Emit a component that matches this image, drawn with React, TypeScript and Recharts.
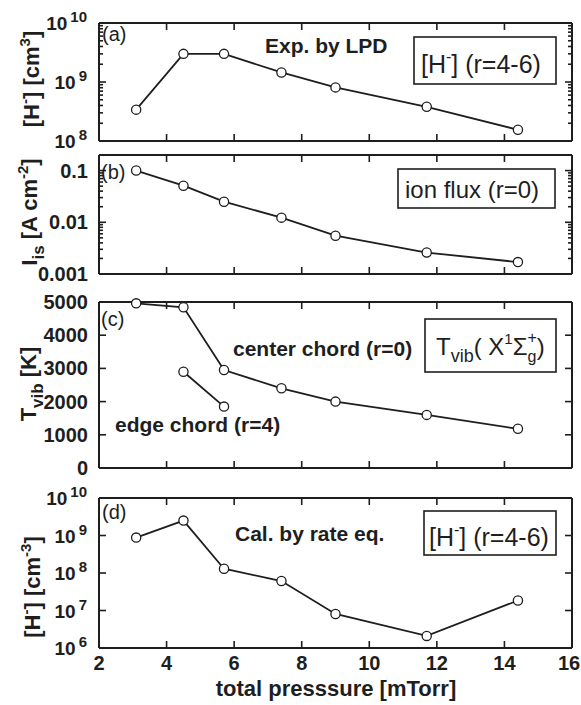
import React from 'react';
import { LineChart, Line, XAxis, YAxis } from 'recharts';

const W = 581;
const H = 705;
const FONT = '"Liberation Sans", Arial, Helvetica, sans-serif';
const INK = '#1e1e1e';

// total pressure [mTorr], shared by every panel
const pressure = [3.1, 4.5, 5.7, 7.4, 9.0, 11.7, 14.4];
const xTicks = [2, 4, 6, 8, 10, 12, 14, 16];

// (a) H- density measured by LPD, r = 4-6
const hMinusLpd = [3.4e8, 3.0e9, 3.0e9, 1.45e9, 8.1e8, 3.8e8, 1.55e8];
// (b) ion saturation current, r = 0
const ionFlux = [0.1, 0.051, 0.025, 0.0123, 0.0055, 0.0026, 0.0017];
// (c) vibrational temperature, center and edge chords
const tvibCenter = [4960, 4840, 2950, 2400, 2000, 1600, 1180];
const edgePressure = [4.5, 5.7];
const tvibEdge = [2900, 1850];
// (d) H- density from rate equation, r = 4-6
const hMinusCalc = [8.8e8, 2.5e9, 1.3e8, 6.1e7, 8.1e6, 2.1e6, 1.85e7];

// y tick values
const ticksA = [1e8, 1e9, 1e10];
const ticksB = [0.001, 0.01, 0.1];
const ticksC = [0, 1000, 2000, 3000, 4000, 5000];
const ticksD = [1e6, 1e7, 1e8, 1e9, 1e10];

// adds 2..9 minor ticks between log decades
const withMinors = (majors: number[]) => {
  const out: number[] = [];
  majors.forEach((m, i) => {
    out.push(m);
    if (i < majors.length - 1) for (let k = 2; k <= 9; k++) out.push(m * k);
  });
  return out;
};

const toRows = (xs: number[], ys: number[]) => xs.map((x, i) => ({ x, y: ys[i] }));

const isDecade = (v: number) => {
  const l = Math.log10(v);
  return Math.abs(l - Math.round(l)) < 1e-6;
};

type Kind = 'pow' | 'dec' | 'lin' | 'none';

function labelFor(kind: Kind, v: number, x: number, y: number) {
  const common = { fontFamily: FONT, fontWeight: 700, fill: INK } as const;
  if (kind === 'pow') {
    const n = Math.round(Math.log10(v));
    return (
      <text x={x - 12} y={y + 7} textAnchor="end" fontSize={19} {...common}>
        <tspan>10</tspan>
        <tspan dx={3} dy={-8} fontSize={15}>{n}</tspan>
      </text>
    );
  }
  if (kind === 'dec' || kind === 'lin') {
    return (
      <text x={x - 11} y={y + 7} textAnchor="end" fontSize={20} {...common}>
        {String(v)}
      </text>
    );
  }
  return null;
}

// inward tick mark (major length 7, log minors 4) plus the label on the left side
function YTick(props: any) {
  const { x, y, payload, side, kind, log } = props;
  const v = payload.value as number;
  const major = !log || isDecade(v);
  const dir = side === 'left' ? 1 : -1;
  return (
    <g>
      <line x1={x} y1={y} x2={x + dir * (major ? 7 : 4)} y2={y} stroke={INK} strokeWidth={1.6} />
      {side === 'left' && major ? labelFor(kind, v, x, y) : null}
    </g>
  );
}

function XTick(props: any) {
  const { x, y, side } = props;
  const dir = side === 'top' ? 1 : -1;
  return <line x1={x} y1={y} x2={x} y2={y + dir * 7} stroke={INK} strokeWidth={1.6} />;
}

function XLabel(props: any) {
  const { x, y, payload } = props;
  return (
    <text
      x={Math.min(x, W - 12)}
      y={y + 21}
      textAnchor="middle"
      fontSize={20}
      fontFamily={FONT}
      fontWeight={700}
      fill={INK}
    >
      {payload.value}
    </text>
  );
}

const dotStyle = { r: 4.6, fill: '#fff', stroke: INK, strokeWidth: 1.3 };
const axisLineStyle = { stroke: INK, strokeWidth: 2 };

const PAD_TOP = 25;
const PAD_BOTTOM = 50;

interface PanelProps {
  top: number;
  bottom: number;
  domain: [number, number];
  log: boolean;
  ticks: number[];
  kind: Kind;
  series: { x: number; y: number }[][];
  xLabels?: boolean;
}

function Panel({ top, bottom, domain, log, ticks, kind, series, xLabels }: PanelProps) {
  const h = bottom - top + PAD_TOP + PAD_BOTTOM;
  const extra = xLabels ? 1 : 0;
  return (
    <div style={{ position: 'absolute', left: 0, top: top - PAD_TOP }}>
      <LineChart
        width={W}
        height={h}
        data={series[0]}
        margin={{ top: PAD_TOP - 1, bottom: PAD_BOTTOM - 1 - extra, left: 0, right: 0 }}
      >
        <XAxis
          xAxisId="b"
          type="number"
          dataKey="x"
          domain={[2, 16]}
          ticks={xTicks}
          interval={0}
          height={1}
          tickSize={0}
          tickMargin={0}
          axisLine={axisLineStyle}
          tickLine={false}
          tick={(p: any) => <XTick {...p} side="bottom" />}
        />
        {xLabels ? (
          <XAxis
            xAxisId="lab"
            type="number"
            dataKey="x"
            domain={[2, 16]}
            ticks={xTicks}
            interval={0}
            height={1}
            tickSize={0}
            tickMargin={0}
            axisLine={false}
            tickLine={false}
            tick={(p: any) => <XLabel {...p} />}
          />
        ) : null}
        <XAxis
          xAxisId="t"
          orientation="top"
          type="number"
          dataKey="x"
          domain={[2, 16]}
          ticks={xTicks}
          interval={0}
          height={1}
          tickSize={0}
          tickMargin={0}
          axisLine={axisLineStyle}
          tickLine={false}
          tick={(p: any) => <XTick {...p} side="top" />}
        />
        <YAxis
          yAxisId="l"
          type="number"
          dataKey="y"
          scale={log ? 'log' : 'linear'}
          domain={domain}
          ticks={ticks}
          interval={0}
          width={99}
          tickSize={0}
          tickMargin={0}
          axisLine={axisLineStyle}
          tickLine={false}
          tick={(p: any) => <YTick {...p} side="left" kind={kind} log={log} />}
        />
        <YAxis
          yAxisId="r"
          orientation="right"
          type="number"
          dataKey="y"
          scale={log ? 'log' : 'linear'}
          domain={domain}
          ticks={ticks}
          interval={0}
          width={9}
          tickSize={0}
          tickMargin={0}
          axisLine={axisLineStyle}
          tickLine={false}
          tick={(p: any) => <YTick {...p} side="right" kind="none" log={log} />}
        />
        {series.map((rows, i) => (
          <Line
            key={i}
            xAxisId="b"
            yAxisId="l"
            data={rows}
            dataKey="y"
            type="linear"
            stroke={INK}
            strokeWidth={1.8}
            dot={dotStyle}
            activeDot={false}
            isAnimationActive={false}
          />
        ))}
      </LineChart>
    </div>
  );
}

const sup = (t: string, size: number, dy: number) => (
  <tspan fontSize={size} dy={dy}>{t}</tspan>
);

function Overlay() {
  const bold = { fontFamily: FONT, fontWeight: 700, fill: INK } as const;
  const reg = { fontFamily: FONT, fontWeight: 400, fill: INK } as const;
  const box = { fill: 'none', stroke: INK, strokeWidth: 1.6 } as const;
  return (
    <svg width={W} height={H} style={{ position: 'absolute', left: 0, top: 0, pointerEvents: 'none' }}>
      {/* y titles */}
      <text transform="translate(39,79) rotate(-90)" textAnchor="middle" fontSize={22} {...bold}>
        [H{sup('-', 15, -9)}<tspan dy={9}>] [cm</tspan>
        {sup('3', 15, -9)}
        <tspan dy={9}>]</tspan>
      </text>
      <text transform="translate(37,212) rotate(-90)" textAnchor="middle" fontSize={22} {...bold}>
        I<tspan fontSize={17} dy={7}>is</tspan>
        <tspan dy={-7}> [A cm</tspan>
        {sup('-2', 15, -9)}
        <tspan dy={9}>]</tspan>
      </text>
      <text transform="translate(36,384) rotate(-90)" textAnchor="middle" fontSize={22} {...bold}>
        T<tspan fontSize={17} dy={7}>vib</tspan>
        <tspan dy={-7}> [K]</tspan>
      </text>
      <text transform="translate(40,587) rotate(-90)" textAnchor="middle" fontSize={22} {...bold}>
        [H{sup('-', 15, -9)}<tspan dy={9}>] [cm</tspan>
        {sup('-3', 15, -9)}
        <tspan dy={9}>]</tspan>
      </text>

      {/* x title */}
      <text x={336} y={696} textAnchor="middle" fontSize={22} {...bold}>
        total presssure [mTorr]
      </text>

      {/* (a) */}
      <text x={102} y={41} fontSize={20} {...reg}>(a)</text>
      <text x={265} y={53} fontSize={21} {...bold}>Exp. by LPD</text>
      <rect x={414} y={37} width={142} height={47} {...box} />
      <text x={421} y={73} fontSize={25} {...reg}>
        [H{sup('-', 16, -11)}<tspan dy={11}>] (r=4-6)</tspan>
      </text>

      {/* (b) */}
      <text x={101} y={179} fontSize={20} {...reg}>(b)</text>
      <rect x={398} y={169} width={157} height={39} {...box} />
      <text x={405} y={198} fontSize={24} {...reg}>ion flux (r=0)</text>

      {/* (c) */}
      <text x={101} y={326} fontSize={20} {...reg}>(c)</text>
      <text x={233} y={356} fontSize={21} {...bold}>center chord (r=0)</text>
      <text x={115} y={432} fontSize={21} {...bold}>edge chord (r=4)</text>
      <rect x={425} y={319} width={131} height={53} {...box} />
      <text x={436} y={355} fontSize={24} {...reg}>
        T<tspan fontSize={18} dy={7}>vib</tspan>
        <tspan dy={-7}>( X</tspan>
        <tspan fontSize={15} dy={-11}>1</tspan>
        <tspan dy={11}>Σ</tspan>
        <tspan fontSize={16} dy={7}>g</tspan>
        <tspan fontSize={16} dx={-9} dy={-19}>+</tspan>
        <tspan dy={12}>)</tspan>
      </text>

      {/* (d) */}
      <text x={102} y={519} fontSize={20} {...reg}>(d)</text>
      <text x={235} y={541} fontSize={21} {...bold}>Cal. by rate eq.</text>
      <rect x={424} y={511} width={132} height={44} {...box} />
      <text x={429} y={546} fontSize={25} {...reg}>
        [H{sup('-', 16, -11)}<tspan dy={11}>] (r=4-6)</tspan>
      </text>
    </svg>
  );
}

export default function App() {
  return (
    <div style={{ position: 'absolute', left: 0, top: 0, width: W, height: H, background: '#fff' }}>
      <Panel
        top={23}
        bottom={141}
        domain={[1e8, 1e10]}
        log
        ticks={withMinors(ticksA)}
        kind="pow"
        series={[toRows(pressure, hMinusLpd)]}
      />
      <Panel
        top={155}
        bottom={274}
        domain={[0.001, 0.2]}
        log
        ticks={withMinors(ticksB)}
        kind="dec"
        series={[toRows(pressure, ionFlux)]}
      />
      <Panel
        top={302}
        bottom={468}
        domain={[0, 5000]}
        log={false}
        ticks={ticksC}
        kind="lin"
        series={[toRows(pressure, tvibCenter), toRows(edgePressure, tvibEdge)]}
      />
      <Panel
        top={498}
        bottom={648}
        domain={[1e6, 1e10]}
        log
        ticks={ticksD}
        kind="pow"
        series={[toRows(pressure, hMinusCalc)]}
        xLabels
      />
      <Overlay />
    </div>
  );
}
